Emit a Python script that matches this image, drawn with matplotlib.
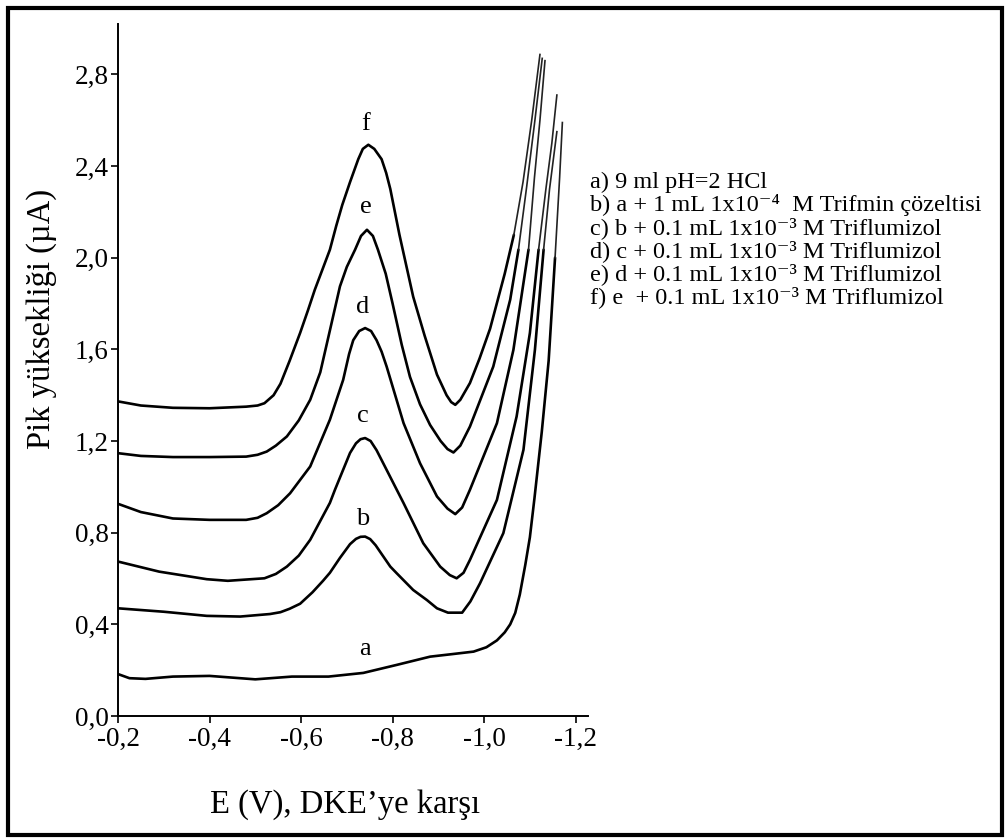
import matplotlib
matplotlib.use("Agg")
import matplotlib.pyplot as plt
from matplotlib.patches import Rectangle
from matplotlib.ticker import FuncFormatter

plt.rcParams['font.family'] = ['Liberation Serif', 'DejaVu Serif']

# ---- data: potential magnitude (V, plotted as negative) and current (µA) ----
a_E = [0.20, 0.225, 0.26, 0.32, 0.40, 0.50, 0.58, 0.66, 0.736, 0.809, 0.882, 0.93, 0.977,
       1.005, 1.028, 1.045, 1.057, 1.068, 1.078, 1.09, 1.10, 1.11, 1.126, 1.141, 1.155, 1.165, 1.171]
a_I = [0.183, 0.165, 0.162, 0.172, 0.175, 0.16, 0.172, 0.172, 0.188, 0.223, 0.259, 0.27, 0.281,
       0.30, 0.33, 0.365, 0.40, 0.45, 0.53, 0.66, 0.78, 0.95, 1.24, 1.55, 2.0, 2.35, 2.59]

b_E = [0.20, 0.30, 0.394, 0.467, 0.532, 0.555, 0.575, 0.598, 0.625, 0.648, 0.663, 0.685, 0.707,
       0.72, 0.73, 0.74, 0.751, 0.763, 0.775, 0.795, 0.809, 0.845, 0.875, 0.897, 0.921, 0.952,
       0.97, 0.991, 1.042, 1.086, 1.111, 1.13, 1.143, 1.159]
b_I = [0.47, 0.455, 0.437, 0.434, 0.445, 0.453, 0.468, 0.49, 0.54, 0.59, 0.625, 0.69, 0.75,
       0.773, 0.782, 0.783, 0.772, 0.745, 0.71, 0.652, 0.623, 0.55, 0.506, 0.47, 0.451, 0.451,
       0.50, 0.579, 0.798, 1.162, 1.598, 2.035, 2.3, 2.55]

c_E = [0.20, 0.29, 0.394, 0.44, 0.52, 0.545, 0.569, 0.595, 0.62, 0.663, 0.674, 0.707, 0.72,
       0.73, 0.74, 0.752, 0.765, 0.787, 0.824, 0.867, 0.904, 0.925, 0.94, 0.955, 0.969, 1.028,
       1.071, 1.10, 1.119, 1.135, 1.148, 1.159]
c_I = [0.674, 0.63, 0.597, 0.59, 0.601, 0.62, 0.652, 0.70, 0.769, 0.93, 0.987, 1.148, 1.19,
       1.208, 1.213, 1.20, 1.16, 1.074, 0.929, 0.754, 0.652, 0.615, 0.601, 0.625, 0.681, 0.943,
       1.307, 1.671, 2.035, 2.3, 2.5, 2.71]

d_E = [0.20, 0.25, 0.32, 0.40, 0.48, 0.505, 0.525, 0.55, 0.576, 0.62, 0.663, 0.692, 0.705,
       0.714, 0.727, 0.74, 0.753, 0.765, 0.776, 0.787, 0.824, 0.86, 0.897, 0.92, 0.937, 0.952,
       0.969, 1.028, 1.064, 1.086, 1.097, 1.11, 1.122, 1.133]
d_I = [0.926, 0.89, 0.862, 0.856, 0.856, 0.865, 0.885, 0.92, 0.972, 1.089, 1.293, 1.467, 1.58,
       1.64, 1.68, 1.693, 1.68, 1.64, 1.59, 1.525, 1.278, 1.103, 0.958, 0.905, 0.881, 0.91,
       0.987, 1.278, 1.598, 1.89, 2.035, 2.35, 2.6, 2.86]

e_E = [0.20, 0.25, 0.32, 0.40, 0.48, 0.505, 0.525, 0.545, 0.569, 0.595, 0.62, 0.642, 0.665,
       0.685, 0.70, 0.718, 0.731, 0.744, 0.757, 0.768, 0.785, 0.80, 0.82, 0.838, 0.86, 0.882,
       0.905, 0.92, 0.933, 0.948, 0.969, 1.02, 1.057, 1.075, 1.093, 1.111, 1.127]
e_I = [1.147, 1.135, 1.13, 1.13, 1.132, 1.14, 1.154, 1.18, 1.22, 1.29, 1.38, 1.50, 1.70,
       1.875, 1.96, 2.035, 2.095, 2.122, 2.095, 2.035, 1.93, 1.80, 1.62, 1.48, 1.36, 1.27,
       1.20, 1.165, 1.15, 1.18, 1.263, 1.525, 1.817, 2.035, 2.31, 2.6, 2.87]

f_E = [0.20, 0.25, 0.32, 0.40, 0.48, 0.505, 0.52, 0.54, 0.555, 0.575, 0.598, 0.615, 0.63,
       0.647, 0.663, 0.677, 0.69, 0.707, 0.725, 0.735, 0.747, 0.76, 0.776, 0.786, 0.795, 0.815,
       0.845, 0.87, 0.897, 0.918, 0.928, 0.937, 0.948, 0.969, 0.99, 1.013, 1.045, 1.065, 1.085,
       1.104, 1.122]
f_I = [1.373, 1.355, 1.345, 1.343, 1.35, 1.355, 1.365, 1.40, 1.45, 1.55, 1.672, 1.77, 1.86,
       1.95, 2.035, 2.14, 2.23, 2.33, 2.43, 2.475, 2.493, 2.475, 2.43, 2.37, 2.30, 2.10,
       1.83, 1.66, 1.49, 1.40, 1.37, 1.358, 1.38, 1.453, 1.56, 1.69, 1.93, 2.1, 2.33,
       2.6, 2.887]

curve_names = ['a', 'b', 'c', 'd', 'e', 'f']
curves_E = [a_E, b_E, c_E, d_E, e_E, f_E]
curves_I = [a_I, b_I, c_I, d_I, e_I, f_I]

x_ticks = [-0.2, -0.4, -0.6, -0.8, -1.0, -1.2]
y_ticks = [0.0, 0.4, 0.8, 1.2, 1.6, 2.0, 2.4, 2.8]

legend_lines = [
    "a) 9 ml pH=2 HCl",
    "b) a + 1 mL 1x10⁻⁴  M Trifmin çözeltisi",
    "c) b + 0.1 mL 1x10⁻³ M Triflumizol",
    "d) c + 0.1 mL 1x10⁻³ M Triflumizol",
    "e) d + 0.1 mL 1x10⁻³ M Triflumizol",
    "f) e  + 0.1 mL 1x10⁻³ M Triflumizol",
]

# label anchors (E magnitude, current) for curve letters
label_E = [0.740, 0.734, 0.734, 0.7355, 0.742, 0.742]
label_I = [0.266, 0.834, 1.285, 1.758, 2.197, 2.559]

# ---- figure ----
W, H = 1008, 839
fig = plt.figure(figsize=(W / 100, H / 100), dpi=100)
ax = fig.add_axes([118 / W, 1 - 716 / H, (588 - 118) / W, (716 - 24) / H])

for E, I in zip(curves_E, curves_I):
    X = [-e for e in E]
    # the final steep rise (E > 1.0 V, I >= 2.0 µA) is drawn thinner, as in the scan
    k = next(i for i in range(len(E)) if E[i] > 1.0 and I[i] >= 2.0)
    ax.plot(X[:k + 1], I[:k + 1], color='black', lw=1.9, solid_joinstyle='round',
            solid_capstyle='round')
    ax.plot(X[k:], I[k:], color='#222222', lw=1.2, solid_joinstyle='round')

for name, le, li in zip(curve_names, label_E, label_I):
    ax.text(-le, li, name, fontsize=19, ha='center', va='baseline')

ax.set_xlim(-0.2, -1.227)
ax.set_ylim(0, 3.02)
ax.spines['top'].set_visible(False)
ax.spines['right'].set_visible(False)
for s in ('left', 'bottom'):
    ax.spines[s].set_linewidth(1.4)
ax.set_xticks(x_ticks)
ax.set_yticks(y_ticks)
fmt = FuncFormatter(lambda v, p: f"{v:.1f}".replace('.', ','))
ax.xaxis.set_major_formatter(fmt)
ax.yaxis.set_major_formatter(fmt)
ax.tick_params(axis='both', direction='out', length=5, width=1.2, labelsize=19.5, pad=1.5)
ax.tick_params(axis='x', pad=3)

fig.text(345 / W, 1 - 813 / H, "E (V), DKE’ye karşı", fontsize=23.5,
         ha='center', va='baseline')
fig.text(50 / W, 1 - 319 / H, "Pik yüksekliği (µA)", fontsize=23.5, rotation=90,
         rotation_mode='anchor', ha='center', va='baseline')

for i, line in enumerate(legend_lines):
    fig.text(590 / W, 1 - (188 + 23 * i) / H, line, fontsize=17.5, ha='left', va='baseline')

fig.patches.append(Rectangle((8 / W, 1 - 835 / H), (1002 - 8) / W, (835 - 8) / H,
                             transform=fig.transFigure, fill=False, edgecolor='black',
                             linewidth=3.0))

fig.savefig("out.png", dpi=100)
